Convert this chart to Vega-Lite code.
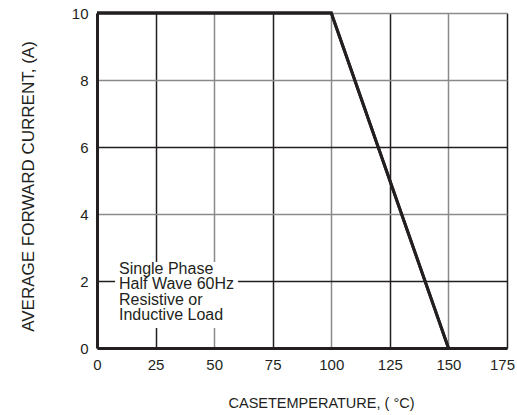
{
  "$schema": "https://vega.github.io/schema/vega-lite/v6.json",
  "width": 410,
  "height": 335,
  "autosize": {"type": "none"},
  "padding": {"left": 97, "top": 13, "right": 10, "bottom": 67},
  "background": "white",
  "config": {
    "view": {"stroke": null},
    "font": "Liberation Sans",
    "axis": {"labelFont": "Liberation Sans", "titleFont": "Liberation Sans"}
  },
  "datasets": {
    "curve": [
      {"temp": 0, "current": 10},
      {"temp": 100, "current": 10},
      {"temp": 150, "current": 0}
    ],
    "box": [
      {"x1": 7.7, "x2": 60.2, "y1": 0.6, "y2": 2.57}
    ],
    "note": [
      {"x": 9.4, "y": 2.6, "label": "Single Phase\nHalf Wave 60Hz\nResistive or\nInductive Load"}
    ]
  },
  "layer": [
    {
      "data": {"name": "curve"},
      "mark": {"type": "line", "color": "#231f20", "strokeWidth": 3, "clip": false},
      "encoding": {
        "x": {
          "field": "temp",
          "type": "quantitative",
          "scale": {"domain": [0, 175], "nice": false},
          "axis": {
            "values": [0, 25, 50, 75, 100, 125, 150, 175],
            "title": "CASETEMPERATURE, ( °C)",
            "titleFontSize": 14.5,
            "titleFontWeight": "normal",
            "titleColor": "#231f20",
            "titleX": 224,
            "titleY": 55,
            "titleAlign": "center",
            "titleBaseline": "middle",
            "labelFontSize": 15,
            "labelColor": "#231f20",
            "labelPadding": 9,
            "labelFlush": false,
            "labelOverlap": false,
            "labelOffset": {"condition": {"test": "datum.value === 175", "value": -5}, "value": 0},
            "ticks": false,
            "domainColor": "#231f20",
            "domainWidth": 3,
            "grid": true,
            "gridColor": {"condition": {"test": "datum.value % 50 === 0", "value": "#8a8a8a"}, "value": "#231f20"},
            "gridWidth": 1.5,
            "gridOpacity": 1
          }
        },
        "y": {
          "field": "current",
          "type": "quantitative",
          "scale": {"domain": [0, 10], "nice": false},
          "axis": {
            "values": [0, 2, 4, 6, 8, 10],
            "title": "AVERAGE FORWARD CURRENT, (A)",
            "titleFontSize": 17,
            "titleFontWeight": "normal",
            "titleColor": "#231f20",
            "titleAngle": -90,
            "titleX": -69,
            "titleY": 173,
            "titleAlign": "center",
            "titleBaseline": "middle",
            "labelFontSize": 15,
            "labelColor": "#231f20",
            "labelPadding": 9,
            "labelFlush": false,
            "labelOverlap": false,
            "ticks": false,
            "domainColor": "#231f20",
            "domainWidth": 3,
            "grid": true,
            "gridColor": {"condition": {"test": "datum.value === 4 || datum.value >= 8", "value": "#8a8a8a"}, "value": "#231f20"},
            "gridWidth": 1.5,
            "gridOpacity": 1
          }
        }
      }
    },
    {
      "data": {"name": "box"},
      "mark": {"type": "rect", "fill": "white"},
      "encoding": {
        "x": {"field": "x1", "type": "quantitative"},
        "x2": {"field": "x2"},
        "y": {"field": "y1", "type": "quantitative"},
        "y2": {"field": "y2"}
      }
    },
    {
      "data": {"name": "note"},
      "mark": {"type": "text", "align": "left", "baseline": "top", "fontSize": 16, "lineHeight": 15.5, "lineBreak": "\n", "color": "#231f20", "font": "Liberation Sans"},
      "encoding": {
        "x": {"field": "x", "type": "quantitative"},
        "y": {"field": "y", "type": "quantitative"},
        "text": {"field": "label"}
      }
    },
    {
      "data": {"name": "curve"},
      "mark": {"type": "line", "color": "#231f20", "strokeWidth": 3, "clip": false},
      "encoding": {
        "x": {"field": "temp", "type": "quantitative"},
        "y": {"field": "current", "type": "quantitative"}
      }
    }
  ]
}
